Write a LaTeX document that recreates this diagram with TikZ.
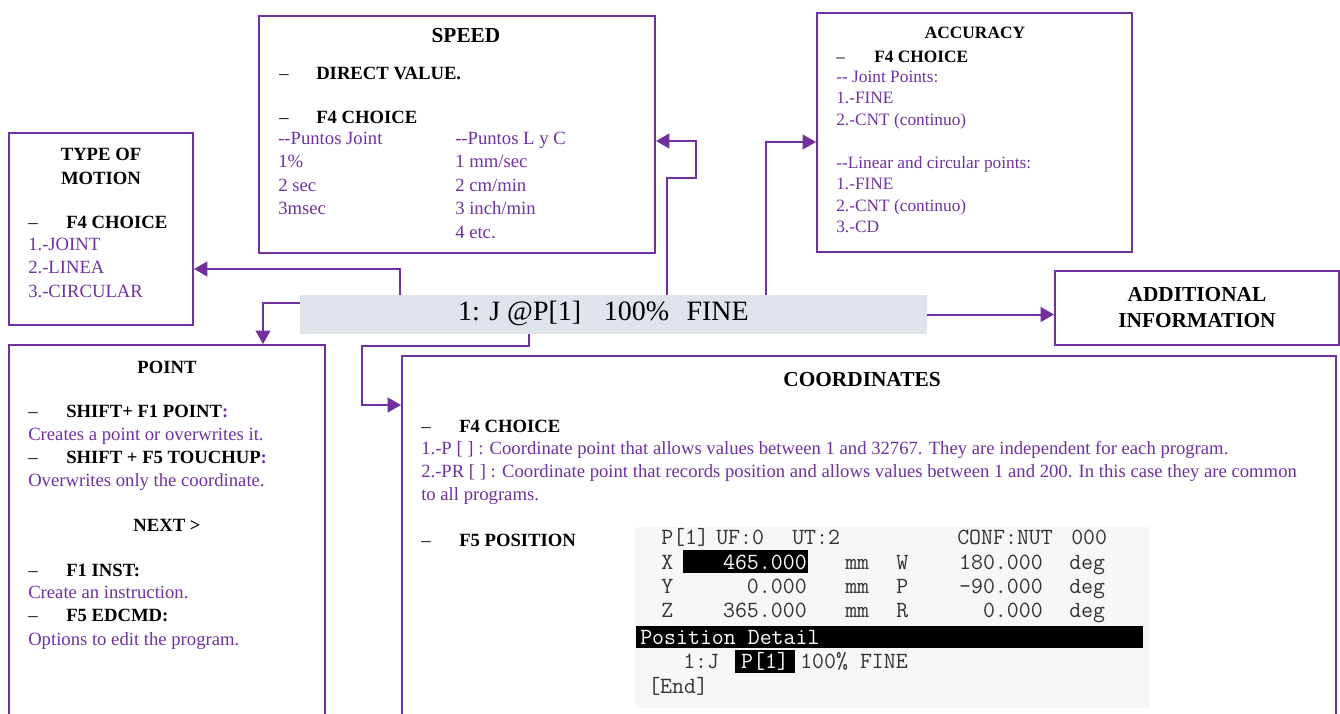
\documentclass[tikz,border=0pt]{standalone}
\usepackage{fontspec}
\setmainfont{Liberation Serif}
\usetikzlibrary{arrows.meta,calc}
\definecolor{vio}{RGB}{112,48,160}
\definecolor{bargray}{RGB}{223,227,234}
\begin{document}
\begin{tikzpicture}[x=0.75pt, y=-0.75pt,
    box/.style={draw=vio, line width=1.5pt, inner sep=0pt},
    txt/.style={anchor=west, inner sep=0pt, text height=11pt, text depth=2pt, font=\fontsize{14}{17}\selectfont},
    ptxt/.style={txt, text=vio},
    btxt/.style={txt, font=\fontsize{14}{17}\selectfont\bfseries},
    head/.style={inner sep=0pt, align=center, font=\fontsize{14}{18}\selectfont\bfseries},
    scr/.style={anchor=west, inner sep=0pt, text height=12.6pt, text depth=2pt, text=black!80, font=\fontsize{17.4}{17.4}\ttfamily},
    hilite/.style={fill=black, inner sep=0pt},
    link/.style={draw=vio, line width=1.5pt, -{Triangle[length=10pt, width=11pt]}}]
    \useasboundingbox (0,0) rectangle (1340,714);
    \clip (0,0) rectangle (1340,714);

    \node[box, minimum width=138pt, minimum height=144pt] (tom) at (101,229) {};
    \node[box, minimum width=297pt, minimum height=177.75pt] (speed) at (457,134.5) {};
    \node[box, minimum width=236.25pt, minimum height=179.25pt] (acc) at (974.5,132.5) {};
    \node[fill=bargray, inner sep=0pt, minimum width=470.25pt, minimum height=29.25pt] (bar) at (613.5,314.5) {};
    \node[box, minimum width=213pt, minimum height=55.5pt, align=center, font=\fontsize{16}{19.5}\selectfont\bfseries] (add) at (1197,308) {ADDITIONAL\\INFORMATION};
    \node[box, minimum width=237pt, minimum height=284.25pt] (point) at (167,534.5) {};
    \node[box, minimum width=700.5pt, minimum height=276pt] (coord) at (869,540) {};
    \node[fill=black!3, inner sep=0pt, minimum width=386.25pt, minimum height=135.75pt] (screen) at (892.5,617.5) {};

    \node[inner sep=0pt, font=\fontsize{21}{21}\selectfont] (cmd) at (603.5,313) {1: J @P[1]\hspace{17pt}100\%\hspace{13pt}FINE};

    % type of motion
    \node[head] (tomhead) at (101,166) {TYPE OF\\MOTION};
    \node[txt] (tom-dash) at (28,222) {\textendash};
    \node[btxt] (tom-f4) at (66,222) {F4 CHOICE};
    \foreach \t [count=\i from 0] in {1.-JOINT, 2.-LINEA, 3.-CIRCULAR}
      \node[ptxt] (tom-\i) at (28,244+23.5*\i) {\t};

    % speed
    \node[head, font=\fontsize{16}{18}\selectfont\bfseries] (speedhead) at (466,36) {SPEED};
    \node[txt] (spd-dash1) at (279,73) {\textendash};
    \node[btxt] (spd-direct) at (316,73) {DIRECT VALUE.};
    \node[txt] (spd-dash2) at (279,117) {\textendash};
    \node[btxt] (spd-f4) at (316,117) {F4 CHOICE};
    \foreach \t [count=\i from 0] in {-{}-Puntos Joint, 1\%, 2 sec, 3msec}
      \node[ptxt] (spj-\i) at (278,138+23.5*\i) {\t};
    \foreach \t [count=\i from 0] in {-{}-Puntos L y C, 1 mm/sec, 2 cm/min, 3 inch/min, 4 etc.}
      \node[ptxt] (spl-\i) at (455,138+23.5*\i) {\t};

    % accuracy
    \node[head, font=\fontsize{13}{16}\selectfont\bfseries] (acchead) at (975,33) {ACCURACY};
    \node[txt, font=\fontsize{13}{16}\selectfont] (acc-dash) at (836,56) {\textendash};
    \node[btxt, font=\fontsize{13}{16}\selectfont\bfseries] (acc-f4) at (874,56) {F4 CHOICE};
    \foreach \t/\i in {-{}- Joint Points:/0, 1.-FINE/1, 2.-CNT (continuo)/2, -{}-Linear and circular points:/4, 1.-FINE/5, 2.-CNT (continuo)/6, 3.-CD/7}
      \node[ptxt, font=\fontsize{13}{16}\selectfont] (acc-\i) at (836,76+21.5*\i) {\t};

    % point
    \node[head] (pointhead) at (167,367) {POINT};
    \node[txt] (pt-dash1) at (28,411) {\textendash};
    \node[btxt] (pt-shf1) at (66,411) {SHIFT+ F1 POINT\textcolor{vio}{:}};
    \node[ptxt] (pt-l1) at (28,434) {Creates a point or overwrites it.};
    \node[txt] (pt-dash2) at (28,457) {\textendash};
    \node[btxt] (pt-shf5) at (66,457) {SHIFT + F5 TOUCHUP\textcolor{vio}{:}};
    \node[ptxt] (pt-l2) at (28,480) {Overwrites only the coordinate.};
    \node[head] (pt-next) at (167,525) {NEXT >};
    \node[txt] (pt-dash3) at (28,570) {\textendash};
    \node[btxt] (pt-inst) at (66,570) {F1 INST:};
    \node[ptxt] (pt-l3) at (28,592) {Create an instruction.};
    \node[txt] (pt-dash4) at (28,615) {\textendash};
    \node[btxt] (pt-edcmd) at (66,615) {F5 EDCMD:};
    \node[ptxt] (pt-l4) at (28,639) {Options to edit the program.};

    % coordinates
    \node[head, font=\fontsize{16}{18}\selectfont\bfseries] (coordhead) at (862,380) {COORDINATES};
    \node[txt] (co-dash1) at (421,426) {\textendash};
    \node[btxt] (co-f4) at (459,426) {F4 CHOICE};
    \node[ptxt] (co-l1) at (421,448) {1.-P [ ] : Coordinate point that allows values between 1 and 32767. They are independent for each program.};
    \node[ptxt] (co-l2) at (421,471) {2.-PR [ ] : Coordinate point that records position and allows values between 1 and 200. In this case they are common};
    \node[ptxt] (co-l3) at (421,494) {to all programs.};
    \node[txt] (co-dash2) at (421,540) {\textendash};
    \node[btxt] (co-f5) at (459,540) {F5 POSITION};

    % teach pendant screen
    \node[hilite, minimum width=93.75pt, minimum height=17.25pt] (hl-x) at (745.5,561.5) {};
    \node[hilite, minimum width=380.25pt, minimum height=16.5pt] (detailbar) at (889.5,637) {};
    \node[hilite, text=white, font=\fontsize{17.4}{17.4}\ttfamily, minimum width=45pt, minimum height=17.25pt] (hl-p) at (765,661.5) {P[1]};
    \node[scr] (s-p1) at (661,537) {P[1]};
    \node[scr] (s-uf) at (716,537) {UF:0};
    \node[scr] (s-ut) at (792,537) {UT:2};
    \node[scr] (s-conf) at (957,537) {CONF:NUT};
    \node[scr] (s-000) at (1071,537) {000};
    \foreach \a/\v/\b/\w/\c [count=\i from 0] in {X/465.000/W/180.000/white, Y/0.000/P/-90.000/black!80, Z/365.000/R/0.000/black!80} {
      \node[scr] (s-a\i) at (661,562+24*\i) {\a};
      \node[scr, anchor=east, text=\c] (s-v\i) at (807,562+24*\i) {\v};
      \node[scr] (s-mm\i) at (845,562+24*\i) {mm};
      \node[scr] (s-b\i) at (896,562+24*\i) {\b};
      \node[scr, anchor=east] (s-w\i) at (1043,562+24*\i) {\w};
      \node[scr] (s-deg\i) at (1069,562+24*\i) {deg};
    }
    \node[scr, text=white] (s-detail) at (640,637) {Position Detail};
    \node[scr] (s-line) at (683,661) {1:J};
    \node[scr] (s-rest) at (800,661) {100\% FINE};
    \node[scr] (s-end) at (648,686) {[End]};

    \draw[link] ($(bar.north west)+(100,0)$) |- ($(tom.north east)+(0,137)$);
    \draw[link] ($(bar.north west)+(0,8)$) -| ($(point.north west)+(255,0)$);
    \draw[link] ($(bar.south west)+(229,0)$) -- ++(0,12) -| ($(coord.north west)+(-39,50)$) -- ($(coord.north west)+(0,50)$);
    \draw[link] ($(bar.north west)+(367,0)$) -- ++(0,-117) -- ++(29,0) |- ($(speed.north east)+(0,126)$);
    \draw[link] ($(bar.north west)+(466,0)$) |- ($(acc.north west)+(0,130)$);
    \draw[link] (bar.east) -- (bar.east -| add.west);
\end{tikzpicture}
\end{document}
